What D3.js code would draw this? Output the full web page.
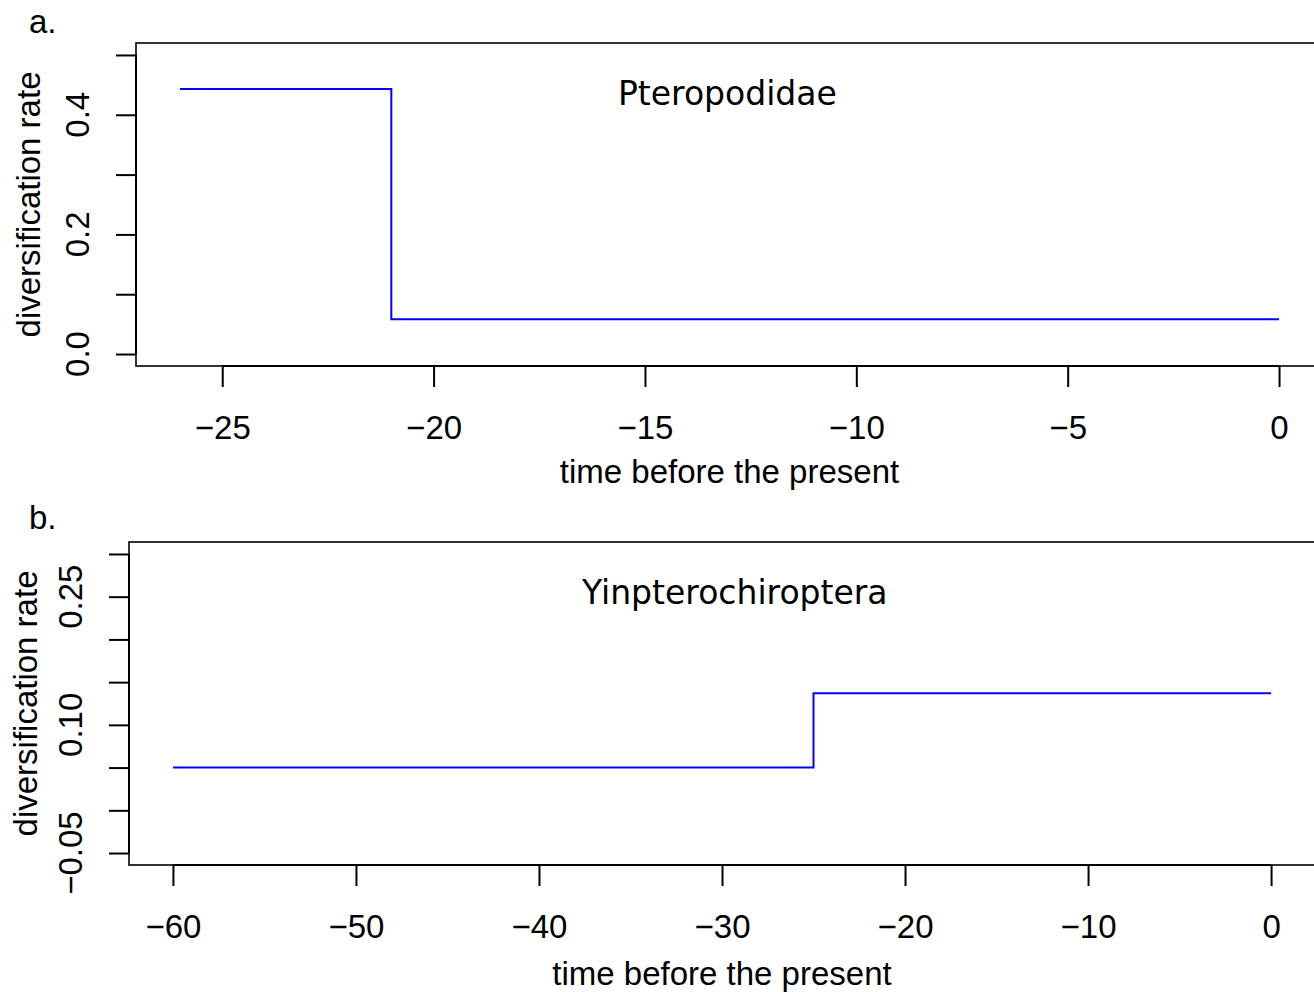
<!DOCTYPE html>
<html>
<head>
<meta charset="utf-8">
<script src="https://cdn.jsdelivr.net/npm/d3@7"></script>
<style>
  html, body { margin: 0; padding: 0; background: #fff; overflow: hidden; }
  svg { display: block; }
</style>
</head>
<body>
<svg id="chart" width="1314" height="992"></svg>
<script>
// ---- data ----
const panelLetters = ["a.", "b."];
const cladeNames = ["Pteropodidae", "Yinpterochiroptera"];
const xLabel = "time before the present";
const yLabel = "diversification rate";

// panel a: step function (time of rate shift, rate)
const timesA = [-26, -21, 0];
const ratesA = [0.443, 0.058, 0.058];
// panel b
const timesB = [-60, -25, 0];
const ratesB = [0.050, 0.137, 0.137];

const xTicksA = [-25, -20, -15, -10, -5, 0];
const yTicksA = [0, 0.1, 0.2, 0.3, 0.4, 0.5];
const yTickLabelsA = [0, 0.2, 0.4];
const xlimA = [-26, 0];
const ylimA = [0, 0.5];

const xTicksB = [-60, -50, -40, -30, -20, -10, 0];
const yTicksB = [-0.05, 0, 0.05, 0.10, 0.15, 0.20, 0.25, 0.30];
const yTickLabelsB = [-0.05, 0.10, 0.25];
const xlimB = [-60, 0];
const ylimB = [-0.05, 0.30];

// ---- drawing ----
const svg = d3.select("#chart");
const AX_FONT = "'Liberation Sans', Arial, Helvetica, sans-serif";
const TITLE_FONT = "'DejaVu Sans', sans-serif";
const FS = 33;
const minus = s => s.replace(/-/g, "\u2212");

function pad(lim) { const d = (lim[1] - lim[0]) * 0.04; return [lim[0] - d, lim[1] + d]; }

function panel(cfg) {
  const x = d3.scaleLinear().domain(pad(cfg.xlim)).range([cfg.left, cfg.right]);
  const y = d3.scaleLinear().domain(pad(cfg.ylim)).range([cfg.bottom, cfg.top]);
  const g = svg.append("g");

  // box
  g.append("rect")
    .attr("x", cfg.left).attr("y", cfg.top)
    .attr("width", cfg.right - cfg.left).attr("height", cfg.bottom - cfg.top)
    .attr("fill", "none").attr("stroke", "#000").attr("stroke-width", 1.6);

  // x axis
  const xa = g.append("g").attr("transform", `translate(0,${cfg.bottom})`)
    .call(d3.axisBottom(x).tickValues(cfg.xTicks).tickSize(21).tickSizeOuter(0).tickFormat(d => minus(d3.format("d")(d))));
  xa.select(".domain").attr("d", `M${x(cfg.xTicks[0])},0H${x(cfg.xTicks[cfg.xTicks.length - 1])}`)
    .attr("stroke-width", 2);
  xa.selectAll(".tick line").attr("stroke-width", 2);
  xa.selectAll(".tick text").attr("y", 73).attr("dy", 0)
    .attr("font-family", AX_FONT).attr("font-size", FS).attr("fill", "#000");

  // y axis
  const ya = g.append("g").attr("transform", `translate(${cfg.left},0)`)
    .call(d3.axisLeft(y).tickValues(cfg.yTicks).tickSize(20).tickSizeOuter(0).tickFormat(() => ""));
  ya.select(".domain").attr("d", `M0,${y(cfg.yTicks[0])}V${y(cfg.yTicks[cfg.yTicks.length - 1])}`)
    .attr("stroke-width", 2);
  ya.selectAll(".tick line").attr("stroke-width", 2);
  ya.selectAll(".tick text").remove();
  g.selectAll(".ylab").data(cfg.yLabels).enter().append("text")
    .attr("transform", d => `translate(${cfg.left - 47},${y(d)}) rotate(-90)`)
    .attr("text-anchor", "middle")
    .attr("font-family", AX_FONT).attr("font-size", FS).attr("fill", "#000")
    .text(d => minus(cfg.yFmt(d)));

  // axis titles
  g.append("text")
    .attr("x", (cfg.left + cfg.right) / 2).attr("y", cfg.xLabY)
    .attr("text-anchor", "middle")
    .attr("font-family", AX_FONT).attr("font-size", FS).attr("fill", "#000")
    .text(xLabel);
  g.append("text")
    .attr("transform", `translate(${cfg.yLabX},${(cfg.top + cfg.bottom) / 2}) rotate(-90)`)
    .attr("text-anchor", "middle")
    .attr("font-family", AX_FONT).attr("font-size", FS).attr("fill", "#000")
    .text(yLabel);

  // panel letter
  g.append("text").attr("x", 29).attr("y", cfg.letterY)
    .attr("font-family", AX_FONT).attr("font-size", FS).attr("fill", "#000")
    .text(cfg.letter);

  // clade title (placed at data coordinates)
  g.append("text")
    .attr("x", x(cfg.titleAt[0])).attr("y", y(cfg.titleAt[1]))
    .attr("text-anchor", "middle")
    .attr("font-family", TITLE_FONT).attr("font-size", FS).attr("fill", "#000")
    .text(cfg.title);

  // step line
  const pts = cfg.times.map((t, i) => [t, cfg.rates[i]]);
  g.append("path")
    .attr("d", d3.line().x(d => x(d[0])).y(d => y(d[1])).curve(d3.curveStepAfter)(pts))
    .attr("fill", "none").attr("stroke", "#0000ff").attr("stroke-width", 2);
}

panel({
  left: 136, right: 1323, top: 43, bottom: 366,
  xlim: xlimA, ylim: ylimA, xTicks: xTicksA, yTicks: yTicksA, yLabels: yTickLabelsA,
  yFmt: d3.format(".1f"),
  xLabY: 483, yLabX: 40, letterY: 33, letter: panelLetters[0],
  title: cladeNames[0], titleAt: [-13.05, 0.417],
  times: timesA, rates: ratesA
});

panel({
  left: 129, right: 1315, top: 542, bottom: 865,
  xlim: xlimB, ylim: ylimB, xTicks: xTicksB, yTicks: yTicksB, yLabels: yTickLabelsB,
  yFmt: d3.format(".2f"),
  xLabY: 985, yLabX: 37, letterY: 529, letter: panelLetters[1],
  title: cladeNames[1], titleAt: [-29.3, 0.2414],
  times: timesB, rates: ratesB
});
</script>
</body>
</html>
